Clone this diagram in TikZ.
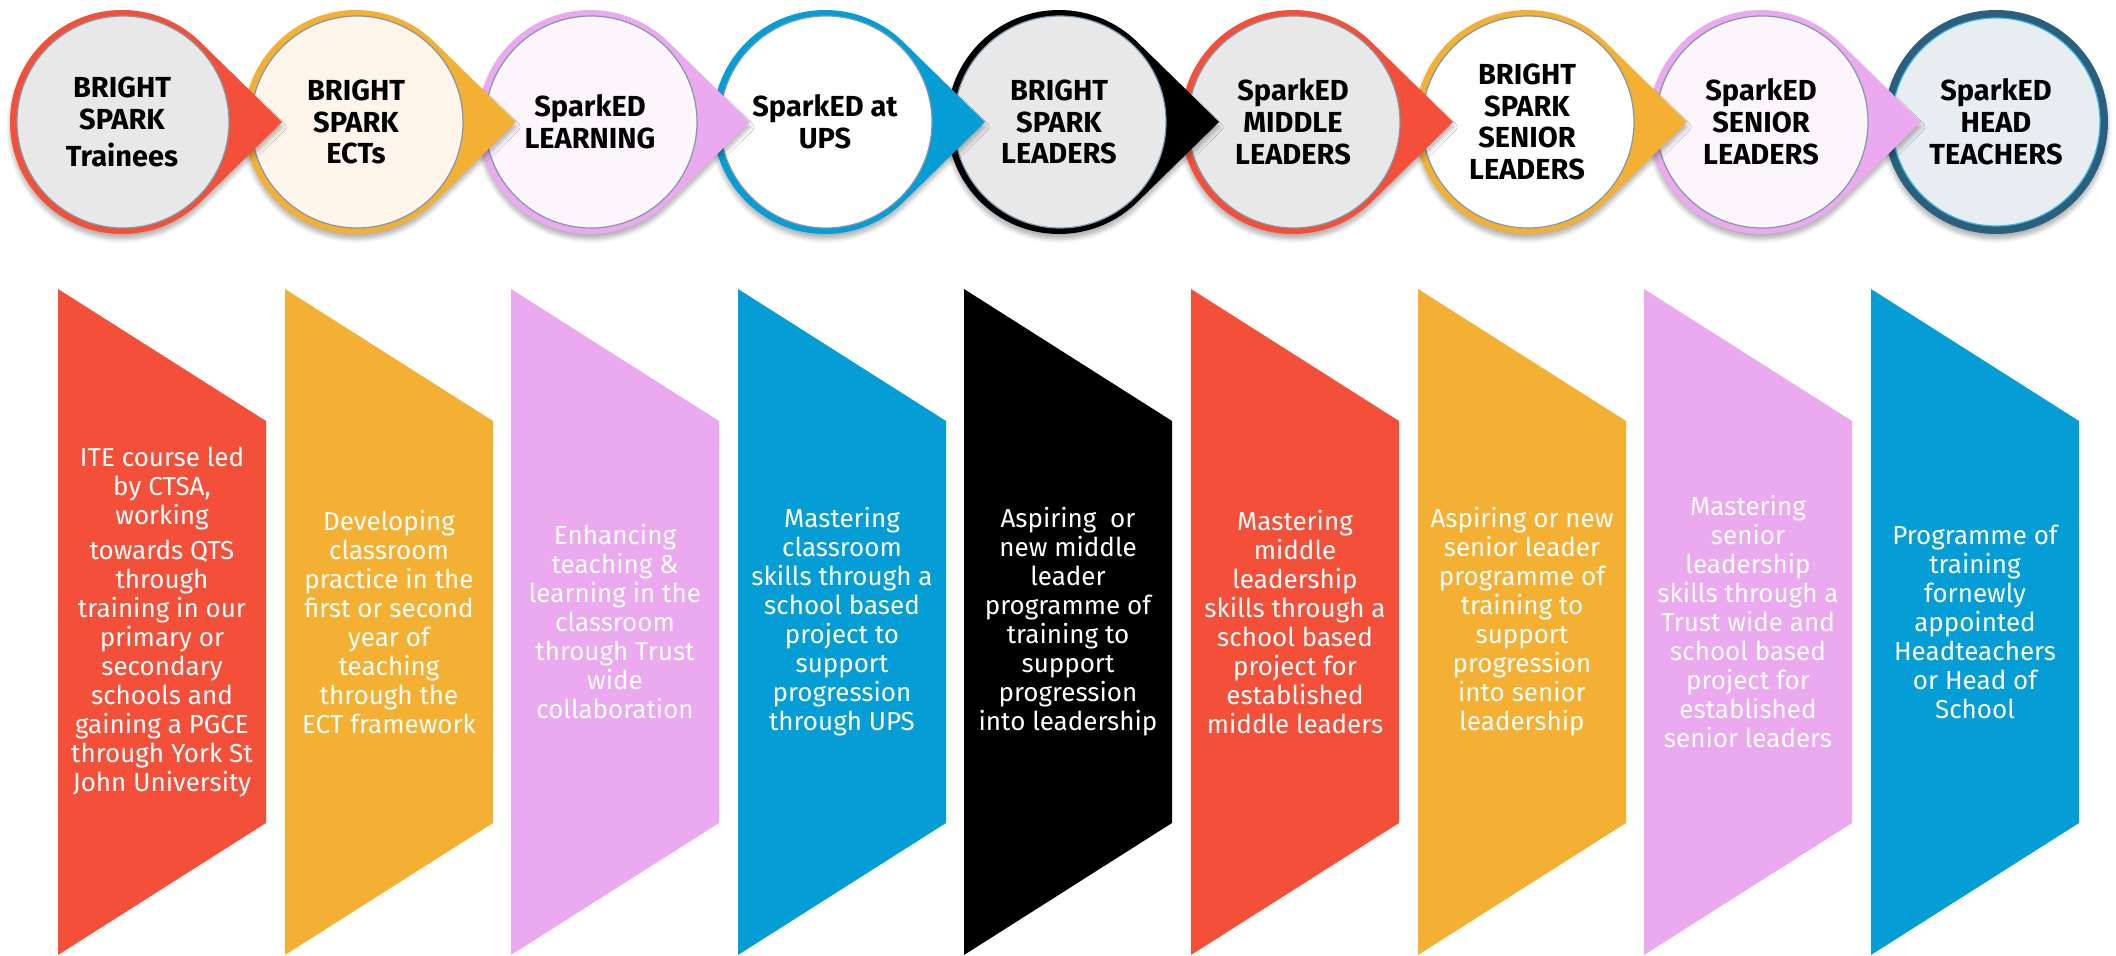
\documentclass[tikz,border=0pt]{standalone}
\usepackage{fontspec}
\setmainfont{Fira Sans}
\usepackage{tikz}
\usepackage{xcolor}
\usetikzlibrary{shadows.blur}

\definecolor{sparkred}{HTML}{F44F39}
\definecolor{sparkorange}{HTML}{F4B032}
\definecolor{sparkpink}{HTML}{EBA9EF}
\definecolor{sparkblue}{HTML}{049DD5}
\definecolor{headring}{HTML}{2A5F7E}
\definecolor{greyfill}{HTML}{E8E8E8}
\definecolor{creamfill}{HTML}{FDF5E9}
\definecolor{pinkfill}{HTML}{FCF5FC}
\definecolor{headfill}{HTML}{E7EDF0}
\definecolor{rimgrey}{HTML}{7F98AC}
\definecolor{rimcyan}{HTML}{3FB8E6}

\begin{document}
\begin{tikzpicture}[x=0.5pt,y=-0.5pt,
	drop/.style={blur shadow={shadow xshift=0pt,shadow yshift=-2.5pt,shadow blur steps=6,shadow opacity=30}},
	inner/.style={draw=rimgrey,line width=0.6},
	disc/.style={align=center,text=black,font=\fontsize{14.5}{15.9}\selectfont\bfseries},
	band/.style={align=center,text=white,font=\fontsize{13}{14.5}\selectfont}]
	\useasboundingbox (0,0) rectangle (2116,956);

	\fill[headring, drop] (1996,122) circle[radius=112];
	\filldraw[inner, draw=rimcyan, fill=headfill] (1996,122) circle[radius=104];
	\node[disc] (c9) at (1996,122) {SparkED\\HEAD\\TEACHERS};

	\fill[sparkpink, drop] (1921,122) -- ([shift={(1761,122)}]46:112) arc[start angle=46,end angle=314,radius=112] -- cycle;
	\filldraw[inner, fill=pinkfill] (1762,122) circle[radius=106];
	\node[disc] (c8) at (1761,122) {SparkED\\SENIOR\\LEADERS};

	\fill[sparkorange, drop] (1687,122) -- ([shift={(1527,122)}]46:112) arc[start angle=46,end angle=314,radius=112] -- cycle;
	\filldraw[inner, fill=white] (1528,122) circle[radius=106];
	\node[disc] (c7) at (1527,122) {BRIGHT\\SPARK\\SENIOR\\LEADERS};

	\fill[sparkred, drop] (1453,122) -- ([shift={(1293,122)}]46:112) arc[start angle=46,end angle=314,radius=112] -- cycle;
	\filldraw[inner, fill=greyfill] (1294,122) circle[radius=106];
	\node[disc] (c6) at (1293,122) {SparkED\\MIDDLE\\LEADERS};

	\fill[black, drop] (1219,122) -- ([shift={(1059,122)}]46:112) arc[start angle=46,end angle=314,radius=112] -- cycle;
	\filldraw[inner, fill=greyfill] (1060,122) circle[radius=106];
	\node[disc] (c5) at (1059,122) {BRIGHT\\SPARK\\LEADERS};

	\fill[sparkblue, drop] (985,122) -- ([shift={(825,122)}]46:112) arc[start angle=46,end angle=314,radius=112] -- cycle;
	\filldraw[inner, fill=white] (826,122) circle[radius=106];
	\node[disc] (c4) at (825,122) {SparkED at\\UPS};

	\fill[sparkpink, drop] (750,122) -- ([shift={(590,122)}]46:112) arc[start angle=46,end angle=314,radius=112] -- cycle;
	\filldraw[inner, fill=pinkfill] (591,122) circle[radius=106];
	\node[disc] (c3) at (590,122) {SparkED\\LEARNING};

	\fill[sparkorange, drop] (516,122) -- ([shift={(356,122)}]46:112) arc[start angle=46,end angle=314,radius=112] -- cycle;
	\filldraw[inner, fill=creamfill] (357,122) circle[radius=106];
	\node[disc] (c2) at (356,122) {BRIGHT\\SPARK\\ECTs};

	\fill[sparkred, drop] (282,122) -- ([shift={(122,122)}]46:112) arc[start angle=46,end angle=314,radius=112] -- cycle;
	\filldraw[inner, fill=greyfill] (123,122) circle[radius=106];
	\node[disc] (c1) at (122,122) {BRIGHT\\SPARK\\[3pt]Trainees};

	\fill[sparkred] (58,289) -- (266,421) -- (266,823) -- (58,955) -- cycle;
	\node[band] (b1) at (162,622) {ITE course led\\by CTSA,\\working\\[3pt]towards QTS\\through\\training in our\\primary or\\secondary\\schools and\\gaining a PGCE\\through York St\\John University};

	\fill[sparkorange] (285,289) -- (493,421) -- (493,823) -- (285,955) -- cycle;
	\node[band] (b2) at (389,622) {Developing\\classroom\\practice in the\\first or second\\year of\\teaching\\through the\\ECT framework};

	\fill[sparkpink] (511,289) -- (719,421) -- (719,823) -- (511,955) -- cycle;
	\node[band] (b3) at (615,622) {Enhancing\\teaching \&\\learning in the\\classroom\\through Trust\\wide\\collaboration};

	\fill[sparkblue] (738,289) -- (946,421) -- (946,823) -- (738,955) -- cycle;
	\node[band] (b4) at (842,622) {Mastering\\classroom\\skills through a\\school based\\project to\\support\\progression\\through UPS};

	\fill[black] (964,289) -- (1172,421) -- (1172,823) -- (964,955) -- cycle;
	\node[band] (b5) at (1068,622) {Aspiring\ \ or\\new middle\\leader\\programme of\\training to\\support\\progression\\into leadership};

	\fill[sparkred] (1191,289) -- (1399,421) -- (1399,823) -- (1191,955) -- cycle;
	\node[band] (b6) at (1295,622) {Mastering\\middle\\leadership\\skills through a\\school based\\project for\\established\\middle leaders};

	\fill[sparkorange] (1418,289) -- (1626,421) -- (1626,823) -- (1418,955) -- cycle;
	\node[band] (b7) at (1522,622) {Aspiring or new\\senior leader\\programme of\\training to\\support\\progression\\into senior\\leadership};

	\fill[sparkpink] (1644,289) -- (1852,421) -- (1852,823) -- (1644,955) -- cycle;
	\node[band] (b8) at (1748,622) {Mastering\\senior\\leadership\\skills through a\\Trust wide and\\school based\\project for\\established\\senior leaders};

	\fill[sparkblue] (1871,289) -- (2079,421) -- (2079,823) -- (1871,955) -- cycle;
	\node[band] (b9) at (1975,622) {Programme of\\training\\fornewly\\appointed\\Headteachers\\or Head of\\School};
\end{tikzpicture}
\end{document}
